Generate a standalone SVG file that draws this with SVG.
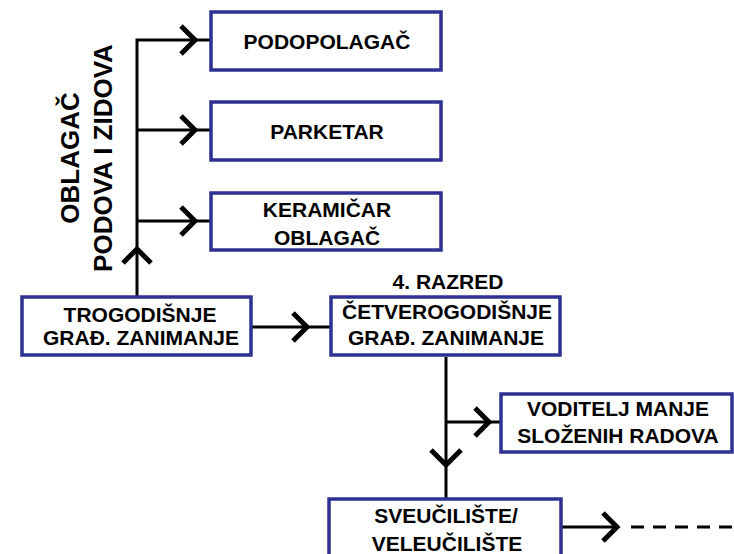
<svg xmlns="http://www.w3.org/2000/svg" width="734" height="554" viewBox="0 0 734 554">
<style>
.box{fill:#fff;stroke:#2e3192;stroke-width:3.5}
.t{font-family:"Liberation Sans",Arial,sans-serif;font-weight:bold;font-size:21px;fill:#000;text-anchor:middle}
.v{font-size:26px}
.ln{stroke:#000;stroke-width:3;fill:none}
.ch{stroke:#000;stroke-width:5;fill:none;stroke-linejoin:miter}
.dash{stroke:#000;stroke-width:3;stroke-dasharray:13 9;fill:none}
</style>
<rect width="734" height="554" fill="#fff"/>
<g id="connectors">
<path class="ln" d="M137 297V40H211M137 130H211M137 221H211"/>
<path class="ch" d="M181 26L195 40L181 54M181 116L195 130L181 144M181 207L195 221L181 235"/>
<path class="ch" d="M123 263L137 249L151 263"/>
<path class="ln" d="M251 327H331"/>
<path class="ch" d="M293 313L307 327L293 341"/>
<path class="ln" d="M446 357V498M446 422H501"/>
<path class="ch" d="M475 408L489 422L475 436"/>
<path class="ch" d="M431 450L446 465L461 450"/>
<path class="ln" d="M562 527H618"/>
<path class="ch" d="M603 513L617 527L603 541"/>
<path class="dash" d="M631 527H734"/>
</g>
<g id="label-oblagac">
<text class="t v" transform="translate(79,158) rotate(-90)">OBLAGA&#268;</text>
<text class="t v" transform="translate(112,158) rotate(-90)">PODOVA I ZIDOVA</text>
</g>
<g id="podopolagac">
<rect class="box" x="211" y="12" width="230" height="58"/>
<text class="t" x="327" y="49">PODOPOLAGA&#268;</text>
</g>
<g id="parketar">
<rect class="box" x="211" y="102" width="230" height="58"/>
<text class="t" x="327" y="139">PARKETAR</text>
</g>
<g id="keramicar">
<rect class="box" x="211" y="193" width="230" height="57"/>
<text class="t" x="327" y="217">KERAMI&#268;AR</text>
<text class="t" x="327" y="245">OBLAGA&#268;</text>
</g>
<g id="trogodisnje">
<rect class="box" x="22" y="297" width="229" height="58"/>
<text class="t" x="140" y="322">TROGODI&#352;NJE</text>
<text class="t" x="141" y="345">GRA&#272;. ZANIMANJE</text>
</g>
<g id="cetverogodisnje">
<text class="t" x="448" y="289">4. RAZRED</text>
<rect class="box" x="331" y="297" width="229" height="58"/>
<text class="t" x="447" y="319">&#268;ETVEROGODI&#352;NJE</text>
<text class="t" x="446" y="345">GRA&#272;. ZANIMANJE</text>
</g>
<g id="voditelj">
<rect class="box" x="501" y="394" width="231" height="58"/>
<text class="t" x="618" y="416">VODITELJ MANJE</text>
<text class="t" x="618" y="443">SLO&#381;ENIH RADOVA</text>
</g>
<g id="sveuciliste">
<rect class="box" x="329" y="499" width="232" height="70"/>
<text class="t" x="446" y="523">SVEU&#268;ILI&#352;TE/</text>
<text class="t" x="447" y="551">VELEU&#268;ILI&#352;TE</text>
</g>
</svg>
